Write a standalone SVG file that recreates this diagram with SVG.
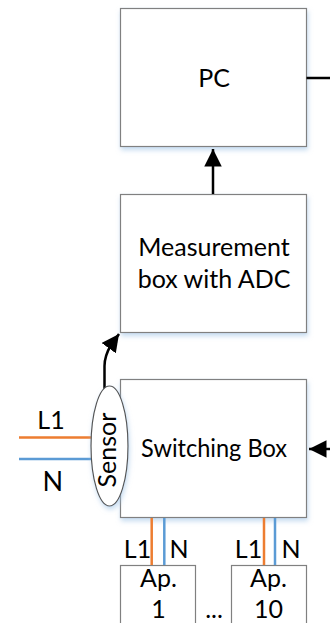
<svg xmlns="http://www.w3.org/2000/svg" width="330" height="623" viewBox="0 0 330 623">
<defs>
<style>
.box{fill:#fff;stroke:#808080;stroke-width:1.2}
.t{font-family:Lato,"Open Sans",sans-serif;font-size:25px;fill:#000;text-anchor:middle}
.conn{fill:none;stroke:#000;stroke-width:2.5}
.l1{stroke:#ED7D31;stroke-width:2.5;fill:none}
.n{stroke:#5B9BD5;stroke-width:2.5;fill:none}
</style>
<filter id="sh" x="-10%" y="-10%" width="130%" height="130%">
<feDropShadow dx="1" dy="3" stdDeviation="2.5" flood-color="#9dc3e6" flood-opacity="0.6"/>
</filter>
<marker id="ah" viewBox="0 0 10 10" refX="10" refY="5" markerWidth="7" markerHeight="7" markerUnits="strokeWidth" orient="auto">
<path d="M0,0 L10,5 L0,10 z" fill="#000"/>
</marker>
</defs>

<g id="pc">
<rect class="box" x="120.5" y="8.5" width="186" height="138" filter="url(#sh)"/>
<text class="t" x="214" y="87">PC</text>
</g>

<g id="measurement-box">
<rect class="box" x="120.5" y="194.5" width="186" height="138" filter="url(#sh)"/>
<text class="t" x="214" y="256">Measurement</text>
<text class="t" x="214" y="288">box with ADC</text>
</g>

<g id="switching-box">
<rect class="box" x="120.5" y="379.5" width="186" height="138" filter="url(#sh)"/>
<text class="t" x="214" y="457" textLength="146" lengthAdjust="spacingAndGlyphs">Switching Box</text>
</g>

<g id="ap1">
<rect class="box" x="120.5" y="565.5" width="75" height="70"/>
<text class="t" x="158.5" y="587">Ap.</text>
<text class="t" x="158.5" y="618">1</text>
</g>

<g id="ap10">
<rect class="box" x="231.5" y="565.5" width="75" height="70"/>
<text class="t" x="268.5" y="587">Ap.</text>
<text class="t" x="268.5" y="618">10</text>
</g>

<text class="t" x="214" y="618">...</text>

<g id="wires">
<line class="l1" x1="19" y1="437.5" x2="92" y2="437.5"/>
<line class="n" x1="19" y1="459" x2="92" y2="459"/>
<line class="l1" x1="151.7" y1="518" x2="151.7" y2="565"/>
<line class="n" x1="164.3" y1="518" x2="164.3" y2="565"/>
<line class="l1" x1="264" y1="518" x2="264" y2="565"/>
<line class="n" x1="275" y1="518" x2="275" y2="565"/>
<text class="t" x="51" y="429">L1</text>
<text class="t" x="52.7" y="490.5" style="font-size:27px">N</text>
<text class="t" x="137.5" y="558">L1</text>
<text class="t" x="179" y="558">N</text>
<text class="t" x="248.5" y="558">L1</text>
<text class="t" x="291" y="558">N</text>
</g>

<g id="connectors">
<line class="conn" x1="213" y1="194" x2="213" y2="149" marker-end="url(#ah)"/>
<path class="conn" d="M104.5,389 L104.5,366 Q104.5,356 111,345 L119,334" marker-end="url(#ah)"/>
<line class="conn" x1="330" y1="449" x2="309" y2="449" marker-end="url(#ah)"/>
<line class="conn" x1="306.5" y1="78" x2="330" y2="78"/>
</g>

<g id="sensor">
<ellipse cx="109.5" cy="446" rx="18.5" ry="60" fill="#fff" stroke="#555" stroke-width="1.2" filter="url(#sh)"/>
<text class="t" x="0" y="0" transform="translate(116,450) rotate(-90)">Sensor</text>
</g>
</svg>
